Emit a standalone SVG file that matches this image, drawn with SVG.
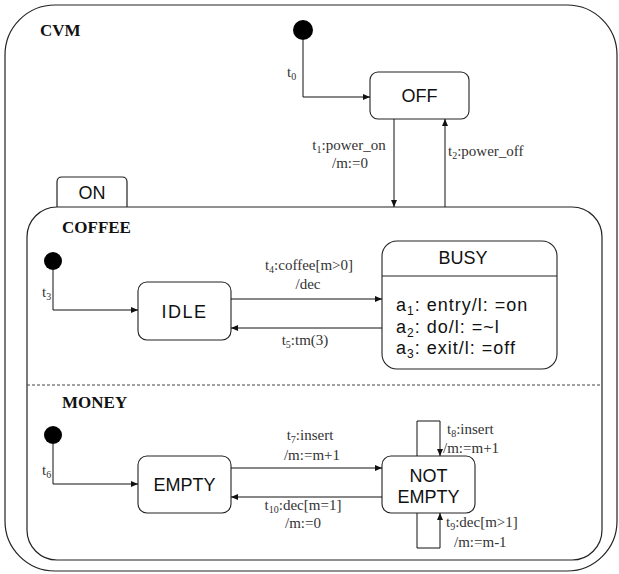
<svg xmlns="http://www.w3.org/2000/svg" width="619" height="574" viewBox="0 0 619 574">
<style>
.frame{fill:none;stroke:#222;stroke-width:1.2}
.st{fill:#fff;stroke:#222;stroke-width:1.1}
.conn{fill:none;stroke:#111;stroke-width:1}
.title{font-family:"Liberation Serif",serif;font-weight:bold;font-size:17px;fill:#111}
.sname{font-family:"Liberation Sans",Arial,sans-serif;font-size:18px;fill:#111;text-anchor:middle}
.act{font-family:"Liberation Sans",Arial,sans-serif;font-size:18px;fill:#111;letter-spacing:1px}
.lbl{font-family:"Liberation Serif",serif;font-size:15px;fill:#333}
.c{text-anchor:middle}
.e{text-anchor:end}
</style>
<defs>
<marker id="arr" markerUnits="userSpaceOnUse" markerWidth="7" markerHeight="6" refX="7" refY="3" orient="auto">
<path d="M0,0 L7,3 L0,6 z" fill="#111"/>
</marker>
</defs>

<g id="CVM">
<rect class="frame" x="5" y="5" width="612" height="566" rx="50" ry="50"/>
<text class="title" x="40" y="36">CVM</text>
</g>

<g id="ON">
<path class="frame" d="M57,207 V182 Q57,177 62,177 H122 Q127,177 127,182 V207"/>
<text class="sname" x="92" y="199">ON</text>
<rect class="frame" x="27" y="207" width="575" height="353" rx="30" ry="30"/>
<line x1="27" y1="385" x2="602" y2="385" stroke="#444" stroke-width="1" stroke-dasharray="3,2"/>
<text class="title" x="62" y="233">COFFEE</text>
<text class="title" x="62" y="408">MONEY</text>
</g>

<g id="init0"><circle cx="303" cy="30" r="10" fill="#000"/></g>
<g id="init1"><circle cx="53" cy="261" r="9" fill="#000"/></g>
<g id="init2"><circle cx="53" cy="435" r="9" fill="#000"/></g>

<g id="OFF">
<rect class="st" x="370" y="72" width="99" height="47" rx="8" ry="8"/>
<text class="sname" x="419.500" y="102">OFF</text>
</g>

<g id="IDLE">
<rect class="st" x="138" y="282" width="93" height="58" rx="9" ry="9"/>
<text class="sname" x="184.500" y="318" letter-spacing="1.5">IDLE</text>
</g>

<g id="BUSY">
<rect class="st" x="382" y="241" width="175" height="128" rx="15" ry="15"/>
<line x1="382" y1="276" x2="557" y2="276" stroke="#222" stroke-width="1.1"/>
<text class="sname" x="463" y="264">BUSY</text>
<text class="act" x="396" y="311">a<tspan font-size="12" dy="4">1</tspan><tspan dy="-4">: entry/l: =on</tspan></text>
<text class="act" x="396" y="333">a<tspan font-size="12" dy="4">2</tspan><tspan dy="-4">: do/l: =~l</tspan></text>
<text class="act" x="396" y="354">a<tspan font-size="12" dy="4">3</tspan><tspan dy="-4">: exit/l: =off</tspan></text>
</g>

<g id="EMPTY">
<rect class="st" x="138" y="456" width="93" height="57" rx="9" ry="9"/>
<text class="sname" x="184.500" y="491">EMPTY</text>
</g>

<g id="NOT_EMPTY">
<rect class="st" x="382" y="456" width="93" height="57" rx="9" ry="9"/>
<text class="sname" x="428.500" y="482">NOT</text>
<text class="sname" x="428.500" y="503">EMPTY</text>
</g>

<g id="connectors">
<path class="conn" d="M303,40 V97 H370" marker-end="url(#arr)"/>
<path class="conn" d="M394,119 V207" marker-end="url(#arr)"/>
<path class="conn" d="M445,207 V119" marker-end="url(#arr)"/>
<path class="conn" d="M53,270 V310 H138" marker-end="url(#arr)"/>
<path class="conn" d="M231,299 H382" marker-end="url(#arr)"/>
<path class="conn" d="M382,328 H231" marker-end="url(#arr)"/>
<path class="conn" d="M53,444 V484 H138" marker-end="url(#arr)"/>
<path class="conn" d="M231,468 H382" marker-end="url(#arr)"/>
<path class="conn" d="M382,497 H231" marker-end="url(#arr)"/>
<path class="conn" d="M417,456 V421 H440 V456" marker-end="url(#arr)"/>
<path class="conn" d="M417,513 V548 H440 V513" marker-end="url(#arr)"/>

<text class="lbl" x="287" y="77">t<tspan font-size="10" dy="3">0</tspan></text>
<text class="lbl c" x="349" y="150">t<tspan font-size="10" dy="3">1</tspan><tspan dy="-3">:power_on</tspan></text>
<text class="lbl c" x="350" y="168">/m:=0</text>
<text class="lbl" x="448" y="156">t<tspan font-size="10" dy="3">2</tspan><tspan dy="-3">:power_off</tspan></text>
<text class="lbl" x="42" y="297">t<tspan font-size="10" dy="3">3</tspan></text>
<text class="lbl c" x="309" y="270">t<tspan font-size="10" dy="3">4</tspan><tspan dy="-3">:coffee[m&gt;0]</tspan></text>
<text class="lbl c" x="308" y="289">/dec</text>
<text class="lbl c" x="305" y="345">t<tspan font-size="10" dy="3">5</tspan><tspan dy="-3">:tm(3)</tspan></text>
<text class="lbl" x="42" y="475">t<tspan font-size="10" dy="3">6</tspan></text>
<text class="lbl c" x="310" y="440">t<tspan font-size="10" dy="3">7</tspan><tspan dy="-3">:insert</tspan></text>
<text class="lbl c" x="312" y="460">/m:=m+1</text>
<text class="lbl c" x="303" y="510">t<tspan font-size="10" dy="3">10</tspan><tspan dy="-3">:dec[m=1]</tspan></text>
<text class="lbl c" x="303" y="528">/m:=0</text>
<text class="lbl" x="447" y="434">t<tspan font-size="10" dy="3">8</tspan><tspan dy="-3">:insert</tspan></text>
<text class="lbl" x="443" y="453">/m:=m+1</text>
<text class="lbl" x="446" y="527">t<tspan font-size="10" dy="3">9</tspan><tspan dy="-3">:dec[m&gt;1]</tspan></text>
<text class="lbl" x="454" y="547">/m:=m-1</text>
</g>
</svg>
